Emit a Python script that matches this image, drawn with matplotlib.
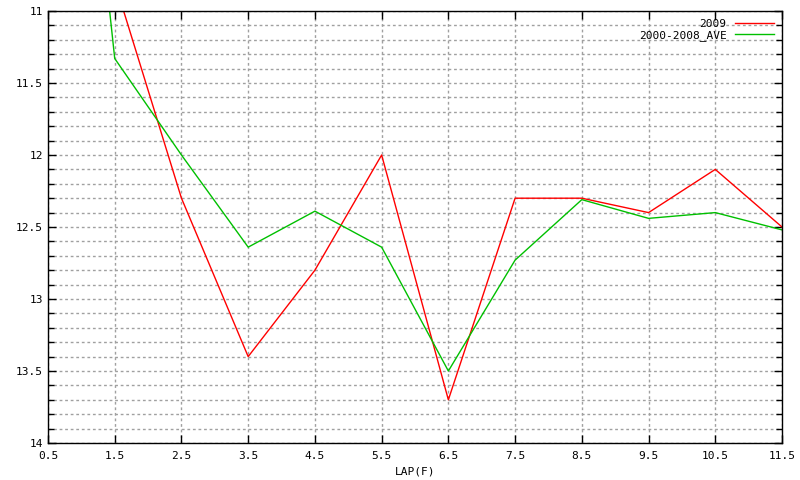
import matplotlib
matplotlib.use("Agg")
import matplotlib.pyplot as plt
from matplotlib.ticker import MultipleLocator, FormatStrFormatter

LAPS = [0.5, 1.5, 2.5, 3.5, 4.5, 5.5, 6.5, 7.5, 8.5, 9.5, 10.5, 11.5]
Y2009 = [10.0, 10.8, 12.3, 13.4, 12.8, 12.0, 13.7, 12.3, 12.3, 12.4, 12.1, 12.5]
YAVE = [7.0, 11.33, 12.0, 12.64, 12.39, 12.64, 13.5, 12.73, 12.31, 12.44, 12.4, 12.52]
LABELS = ["2009", "2000-2008_AVE"]

plt.rcParams["font.family"] = ["DejaVu Sans Mono"]
plt.rcParams["font.size"] = 8

fig = plt.figure(figsize=(8, 4.8), dpi=100)
ax = fig.add_axes([48 / 800, 1 - 443 / 480, 734 / 800, 432 / 480])

ax.plot(LAPS, Y2009, color="#ff0000", lw=1, label=LABELS[0])
ax.plot(LAPS, YAVE, color="#00c000", lw=1, label=LABELS[1])

ax.set_xlim(0.5, 11.5)
ax.set_ylim(14, 11)
ax.xaxis.set_major_locator(MultipleLocator(1.0, offset=0.5))
ax.xaxis.set_major_formatter(FormatStrFormatter("%.1f"))
ax.yaxis.set_major_locator(MultipleLocator(0.5))
ax.yaxis.set_minor_locator(MultipleLocator(0.1))
ax.yaxis.set_major_formatter(plt.FuncFormatter(lambda v, _: f"{v:g}"))

ax.tick_params(which="both", direction="in", top=True, right=True, color="black")
ax.tick_params(which="major", length=6, width=1)
ax.tick_params(which="minor", length=4, width=1)
ax.tick_params(axis="x", pad=6)

ax.grid(True, which="major", axis="x", color="#a0a0a0", lw=1, ls=(0, (2, 2)))
ax.grid(True, which="both", axis="y", color="#a0a0a0", lw=1, ls=(0, (2, 2)))
for s in ax.spines.values():
    s.set_linewidth(1)

ax.set_xlabel("LAP(F)", labelpad=4)

ax.legend(loc="upper right", frameon=False, markerfirst=False,
          handlelength=3.5, borderaxespad=0.3, labelspacing=0.1,
          handletextpad=0.8)

fig.savefig("out.png", dpi=100)
